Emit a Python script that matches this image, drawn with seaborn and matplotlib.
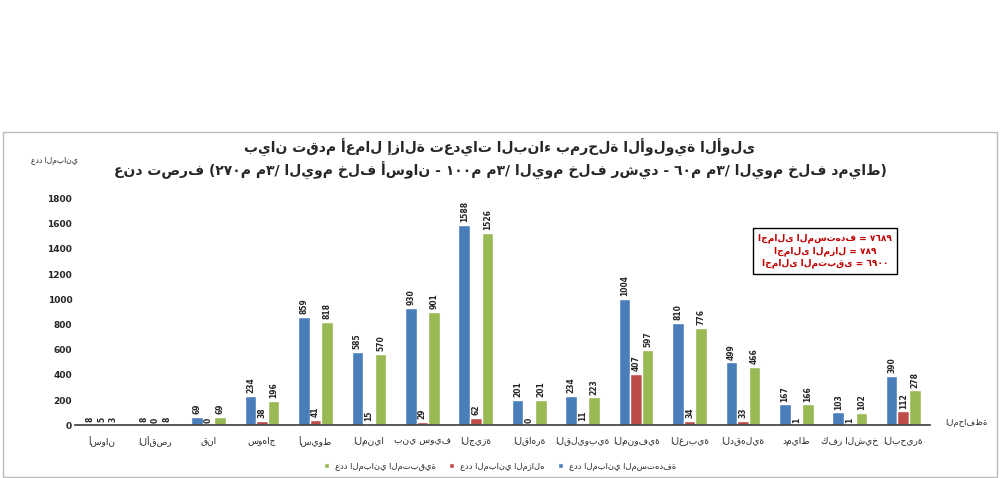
import matplotlib
matplotlib.use("Agg")
import matplotlib.pyplot as plt
import seaborn as sns
import pandas as pd
from matplotlib.patches import Rectangle

def ar(s):
    try:
        import arabic_reshaper
        from bidi.algorithm import get_display
        return get_display(arabic_reshaper.reshape(s))
    except Exception:
        return s

governorates = ["أسوان", "الأقصر", "قنا", "سوهاج", "أسيوط", "المنيا", "بني سويف", "الجيزة",
                "القاهرة", "القليوبية", "المنوفية", "الغربية", "الدقهلية", "دمياط", "كفر الشيخ", "البحيرة"]
target = [8, 8, 69, 234, 859, 585, 930, 1588, 201, 234, 1004, 810, 499, 167, 103, 390]
removed = [5, 0, 0, 38, 41, 15, 29, 62, 0, 11, 407, 34, 33, 1, 1, 112]
remaining = [3, 8, 69, 196, 818, 570, 901, 1526, 201, 223, 597, 776, 466, 166, 102, 278]
series_names = ["عدد المباني المستهدفة", "عدد المباني المزاله", "عدد المباني المتبقية"]
colors = ["#4a7ebb", "#be4b48", "#98b954"]

sns.set_theme(style="white")
plt.rcParams['font.family'] = ['DejaVu Sans']

rows = []
for i, g in enumerate(governorates):
    for name, vals in zip(series_names, [target, removed, remaining]):
        rows.append({"g": ar(g), "s": ar(name), "v": vals[i]})
df = pd.DataFrame(rows)

fig = plt.figure(figsize=(10, 4.78), dpi=100)
fig.patches.append(Rectangle((0.003, 0.003), 0.994, 0.72, transform=fig.transFigure,
                             fill=False, edgecolor="#bbbbbb", lw=1))
ax = fig.add_axes([0.075, 0.11, 0.855, 0.475])
sns.barplot(data=df, x="g", y="v", hue="s", palette=colors, ax=ax, width=0.65, saturation=1)
ax.set_ylim(0, 1800)
ax.set_yticks(range(0, 1801, 200))
ax.tick_params(axis='y', labelsize=6.5, length=0, pad=2)
ax.tick_params(axis='x', labelsize=6.5, length=0, pad=8)
for lab in ax.get_yticklabels():
    lab.set_fontweight("bold")
ax.set_xlabel("")
ax.set_ylabel("")
for s in ["top", "right", "left"]:
    ax.spines[s].set_visible(False)
ax.spines["bottom"].set_color("#444444")
for cont in ax.containers:
    ax.bar_label(cont, labels=[str(int(v)) for v in cont.datavalues], rotation=90,
                 fontsize=5.5, fontweight="bold", padding=2)
handles, labels = ax.get_legend_handles_labels()
ax.get_legend().remove()
fig.legend(handles[::-1], labels[::-1], loc="center", bbox_to_anchor=(0.5, 0.025), ncol=3,
           frameon=False, fontsize=6, handlelength=0.6, handleheight=0.6, columnspacing=1.5)
fig.text(0.078, 0.66, ar("عدد المباني"), fontsize=5.5, ha="right")
fig.text(0.945, 0.11, ar("المحافظة"), fontsize=6, ha="left")
fig.text(0.5, 0.68, ar("بيان تقدم أعمال إزالة تعديات البناء بمرحلة الأولوية الأولى"),
         fontsize=10, fontweight="bold", ha="center")
fig.text(0.5, 0.632, ar("عند تصرف (٢٧٠م م٣/ اليوم خلف أسوان - ١٠٠م م٣/ اليوم خلف رشيد - ٦٠م م٣/ اليوم خلف دمياط)"),
         fontsize=10, fontweight="bold", ha="center")
fig.text(0.825, 0.475, ar("اجمالى المستهدف = ٧٦٨٩") + "\n" + ar("اجمالى المزال = ٧٨٩") + "\n" + ar("اجمالى المتبقى = ٦٩٠٠"),
         fontsize=6.5, color="#c00000", fontweight="bold", ha="center", va="center", linespacing=1.4,
         bbox=dict(boxstyle="square,pad=0.6", fc="white", ec="black", lw=1))
fig.savefig("out.png", dpi=100)
